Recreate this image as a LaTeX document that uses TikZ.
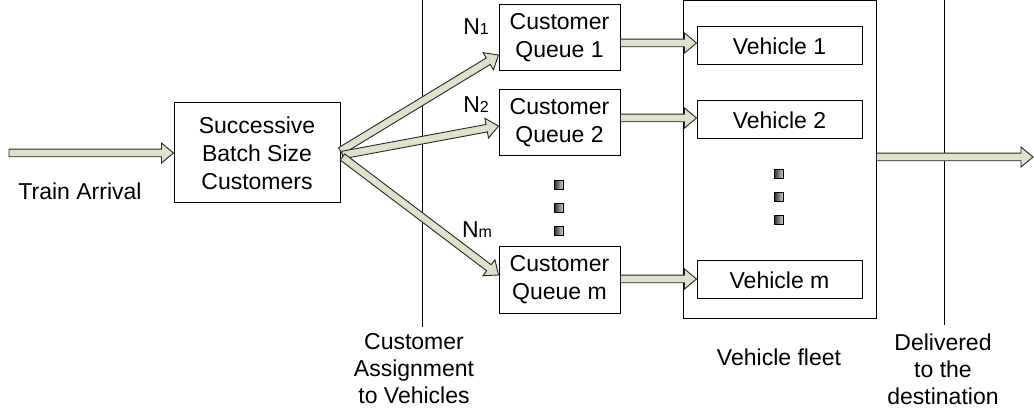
\documentclass[tikz,border=0pt]{standalone}
\usepackage{fontspec}
\setmainfont{Liberation Sans}
\usetikzlibrary{calc}
\definecolor{arrowfill}{RGB}{221,226,204}
\tikzset{
  box/.style={draw=black, line width=1pt, fill=white, inner sep=0pt, align=center,
    font=\fontsize{23}{28}\selectfont},
  lbl/.style={inner sep=0pt, align=center, font=\fontsize{23}{27}\selectfont},
  nlbl/.style={inner sep=0pt, font=\fontsize{23}{27}\selectfont},
  ba/.style={draw=black!85, line width=0.9pt, fill=arrowfill, line join=miter},
  sq/.style={draw=black, line width=0.6pt, minimum size=9pt, inner sep=0pt,
    left color=black!80, right color=black!15},
  sepline/.style={draw=black, line width=1pt}
}
\newcommand\blockarrow[2]{%
  \coordinate (ba-h) at ($(#2)!12pt!(#1)$);
  \draw[ba] ($(#1)!3.8pt!90:(#2)$) -- ($(ba-h)!3.8pt!-90:(#1)$) -- ($(ba-h)!10pt!-90:(#1)$)
    -- (#2) -- ($(ba-h)!10pt!90:(#1)$) -- ($(ba-h)!3.8pt!90:(#1)$) -- ($(#1)!3.8pt!-90:(#2)$) -- cycle;}
\begin{document}
\begin{tikzpicture}[x=1pt,y=-1pt]
\useasboundingbox (0,0) rectangle (1034,414);
% separator lines
\coordinate (l1t) at (422,0); \coordinate (l1b) at (422,327);
\coordinate (l2t) at (944,0); \coordinate (l2b) at (944,325);
\draw[sepline] (l1t) -- (l1b);
\draw[sepline] (l2t) -- (l2b);
% fleet
\node[draw=black, line width=1pt, minimum width=193pt, minimum height=317pt, inner sep=0pt] (fleet) at (779.5,159.5) {};
% boxes
\node[box, minimum width=166pt, minimum height=100pt] (batch) at (257,153) {Successive\\Batch Size\\Customers};
\node[box, minimum width=121pt, minimum height=66pt] (q1) at (559.5,38) {Customer\\Queue 1};
\node[box, minimum width=121pt, minimum height=66pt] (q2) at (559.5,123) {Customer\\Queue 2};
\node[box, minimum width=121pt, minimum height=66pt] (qm) at (559.5,280) {Customer\\Queue m};
\node[box, minimum width=165pt, minimum height=38pt] (v1) at (779.5,46) {Vehicle 1};
\node[box, minimum width=165pt, minimum height=38pt] (v2) at (779.5,120) {Vehicle 2};
\node[box, minimum width=165pt, minimum height=38pt] (vm) at (779.5,280) {Vehicle m};
% dots
\node[sq] (d1) at (559,185) {};
\node[sq] (d2) at (559,208) {};
\node[sq] (d3) at (559,231) {};
\node[sq] (e1) at (779,174) {};
\node[sq] (e2) at (779,197) {};
\node[sq] (e3) at (779,220) {};
% labels
\node[nlbl] (n1) at (476,27) {N{\fontsize{16}{16}\selectfont 1}};
\node[nlbl] (n2) at (476,105) {N{\fontsize{16}{16}\selectfont 2}};
\node[nlbl] (nm) at (477,230) {N{\fontsize{16}{16}\selectfont m}};
\node[lbl] (train) at (80,191) {Train Arrival};
\node[lbl] (assign) at (414,369) {Customer\\Assignment\\to Vehicles};
\node[lbl] (fleetlbl) at (779,357) {Vehicle fleet};
\node[lbl] (deliv) at (943,369) {Delivered\\to the\\destination};
% arrows
\coordinate (in) at (9,153);
\coordinate (out) at (1033,157);
\blockarrow{in}{batch.west}
\blockarrow{[yshift=2pt]batch.east}{[yshift=-17pt]q1.west}
\blockarrow{[xshift=2pt,yshift=-2pt]batch.east}{[yshift=-3pt]q2.west}
\blockarrow{[xshift=2pt,yshift=-4pt]batch.east}{[yshift=5pt]qm.west}
\blockarrow{[yshift=-5pt]q1.east}{[yshift=3pt]v1.west}
\blockarrow{[yshift=5pt]q2.east}{[yshift=2pt]v2.west}
\blockarrow{[yshift=1pt]qm.east}{[yshift=1pt]vm.west}
\blockarrow{[yshift=2.5pt]fleet.east}{out}
\end{tikzpicture}
\end{document}
